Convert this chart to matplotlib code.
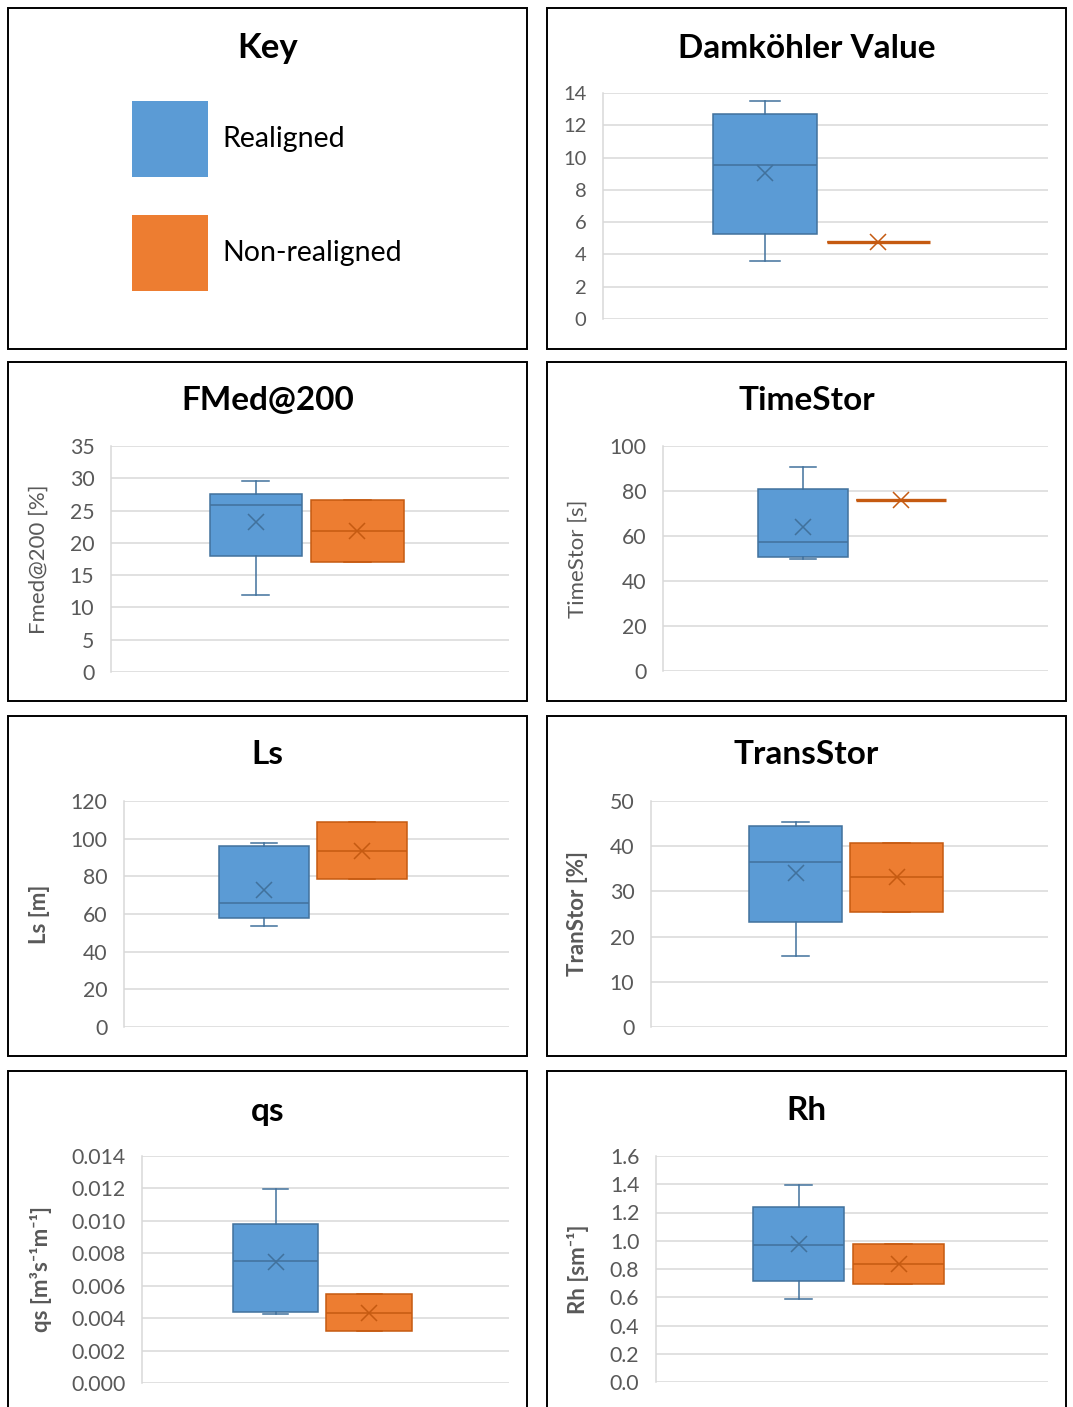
import matplotlib
matplotlib.use('Agg')
import matplotlib.pyplot as plt
from matplotlib.patches import Rectangle
from matplotlib.ticker import FormatStrFormatter

plt.rcParams['font.family'] = ['Lato', 'DejaVu Sans']

# Estadísticos de cada caja (Realigned / Non-realigned)
paneles = ['Damköhler Value', 'FMed@200', 'TimeStor', 'Ls', 'TransStor', 'qs', 'Rh']

real_min = [3.62, 11.93, 49.8, 53.6, 15.8, 0.00428, 0.591]
real_q1 = [5.27, 17.91, 50.8, 58.1, 23.3, 0.00436, 0.714]
real_med = [9.55, 25.81, 57.3, 65.7, 36.6, 0.00752, 0.973]
real_q3 = [12.69, 27.62, 81.1, 96.1, 44.4, 0.00979, 1.237]
real_max = [13.49, 29.63, 90.5, 97.5, 45.3, 0.01196, 1.397]
real_media = [9.03, 23.23, 64.1, 72.7, 34.0, 0.00744, 0.975]

non_min = [4.75, 17.04, 76.2, 78.4, 25.5, 0.00319, 0.695]
non_q1 = [4.75, 17.04, 76.2, 78.4, 25.5, 0.00319, 0.695]
non_med = [4.75, 21.89, 76.2, 93.6, 33.1, 0.00434, 0.836]
non_q3 = [4.75, 26.69, 76.2, 108.8, 40.8, 0.00547, 0.975]
non_max = [4.75, 26.69, 76.2, 108.8, 40.8, 0.00547, 0.975]
non_media = [4.75, 21.89, 76.2, 93.6, 33.1, 0.00434, 0.836]

y_max = [14, 35, 100, 120, 50, 0.014, 1.6]
y_paso = [2, 5, 20, 20, 10, 0.002, 0.2]
y_fmt = ['%d', '%d', '%d', '%d', '%d', '%.3f', '%.1f']
etiquetas_y = ['', 'Fmed@200 [%]', 'TimeStor [s]', 'Ls [m]', 'TranStor [%]',
               'qs [m³s⁻¹m⁻¹]', 'Rh [sm⁻¹]']
etiqueta_negrita = [False, False, False, True, True, True, True]

series = ['Realigned', 'Non-realigned']
relleno = ['#5B9BD5', '#ED7D31']
borde = ['#41719C', '#C55A11']

W, H = 1073, 1407


def caja_fig(x0, y0, x1, y1):
    # pixeles (origen arriba-izquierda) -> coordenadas de figura
    return [x0 / W, 1 - y1 / H, (x1 - x0) / W, (y1 - y0) / H]


# Marcos de cada panel y areas de los ejes, en pixeles
marcos = [(8, 8, 527, 349), (547, 8, 1066, 349),
          (8, 362, 527, 701), (547, 362, 1066, 701),
          (8, 716, 527, 1056), (547, 716, 1066, 1056),
          (8, 1071, 527, 1430), (547, 1071, 1066, 1430)]
ejes_px = [(603, 93, 1048, 319), (111, 446, 509, 672), (663, 446, 1048, 671),
           (124, 801, 509, 1027), (651, 801, 1048, 1027),
           (142, 1156, 509, 1383), (656, 1156, 1048, 1382)]
titulo_y = [48, 400, 400, 755, 755, 1111, 1111]
ylabel_x = [0, 38.5, 578, 39, 578, 41, 578]

fig = plt.figure(figsize=(W / 100, H / 100), dpi=100)

for (x0, y0, x1, y1) in marcos:
    fig.patches.append(Rectangle((x0 / W, 1 - y1 / H), (x1 - x0) / W, (y1 - y0) / H,
                                 transform=fig.transFigure, fill=False,
                                 edgecolor='black', linewidth=1.4))

# Panel de la leyenda
fig.text(267.5 / W, 1 - 48 / H, 'Key', ha='center', va='center',
         fontsize=25, fontweight='bold')
for i, (nombre, y0) in enumerate(zip(series, [101, 215])):
    fig.patches.append(Rectangle((132 / W, 1 - (y0 + 76) / H), 76 / W, 76 / H,
                                 transform=fig.transFigure, facecolor=relleno[i],
                                 edgecolor='none'))
    fig.text(222 / W, 1 - (y0 + 38) / H, nombre, ha='left', va='center',
             fontsize=20.5, color='black')

posiciones = [0.364, 0.619]
ancho = 0.233

for k, nombre in enumerate(paneles):
    ax = fig.add_axes(caja_fig(*ejes_px[k]))
    datos = [
        dict(whislo=real_min[k], q1=real_q1[k], med=real_med[k], q3=real_q3[k],
             whishi=real_max[k], mean=real_media[k], fliers=[]),
        dict(whislo=non_min[k], q1=non_q1[k], med=non_med[k], q3=non_q3[k],
             whishi=non_max[k], mean=non_media[k], fliers=[]),
    ]
    for s in range(2):
        lw = 2.4 if datos[s]['q1'] == datos[s]['q3'] else 1.1
        ax.bxp([datos[s]], positions=[posiciones[s]], widths=ancho,
               patch_artist=True, showmeans=True, showfliers=False,
               manage_ticks=False, capwidths=[ancho * 0.29],
               boxprops=dict(facecolor=relleno[s], edgecolor=borde[s], linewidth=lw),
               medianprops=dict(color=borde[s], linewidth=1.1),
               whiskerprops=dict(color=borde[s], linewidth=1.1),
               capprops=dict(color=borde[s], linewidth=1.1),
               meanprops=dict(marker='x', markeredgecolor=borde[s],
                              markersize=12, markeredgewidth=1.1),
               zorder=3)

    ax.set_xlim(0, 1)
    ax.set_ylim(0, y_max[k])
    n = int(round(y_max[k] / y_paso[k]))
    ax.set_yticks([i * y_paso[k] for i in range(n + 1)])
    ax.yaxis.set_major_formatter(FormatStrFormatter(y_fmt[k]))
    ax.set_xticks([])
    ax.grid(axis='y', color='#D9D9D9', linewidth=1.1)
    ax.set_axisbelow(True)
    for lado in ['top', 'right', 'bottom']:
        ax.spines[lado].set_visible(False)
    ax.spines['left'].set_color('#D9D9D9')
    ax.spines['left'].set_linewidth(1.1)
    ax.tick_params(axis='y', length=0, pad=12,
                   labelsize=14.5 if k == 0 else 15.3, labelcolor='#595959')

    x_centro = 267.5 if ejes_px[k][0] < 540 else 806.5
    fig.text(x_centro / W, 1 - titulo_y[k] / H, nombre, ha='center', va='center',
             fontsize=24, fontweight='bold', color='black')
    if etiquetas_y[k]:
        fig.text(ylabel_x[k] / W, 1 - (ejes_px[k][1] + ejes_px[k][3]) / 2 / H,
                 etiquetas_y[k], rotation=90, ha='center', va='center',
                 fontsize=16, color='#595959',
                 fontweight='bold' if etiqueta_negrita[k] else 'normal')

fig.savefig('out.png', dpi=100)
